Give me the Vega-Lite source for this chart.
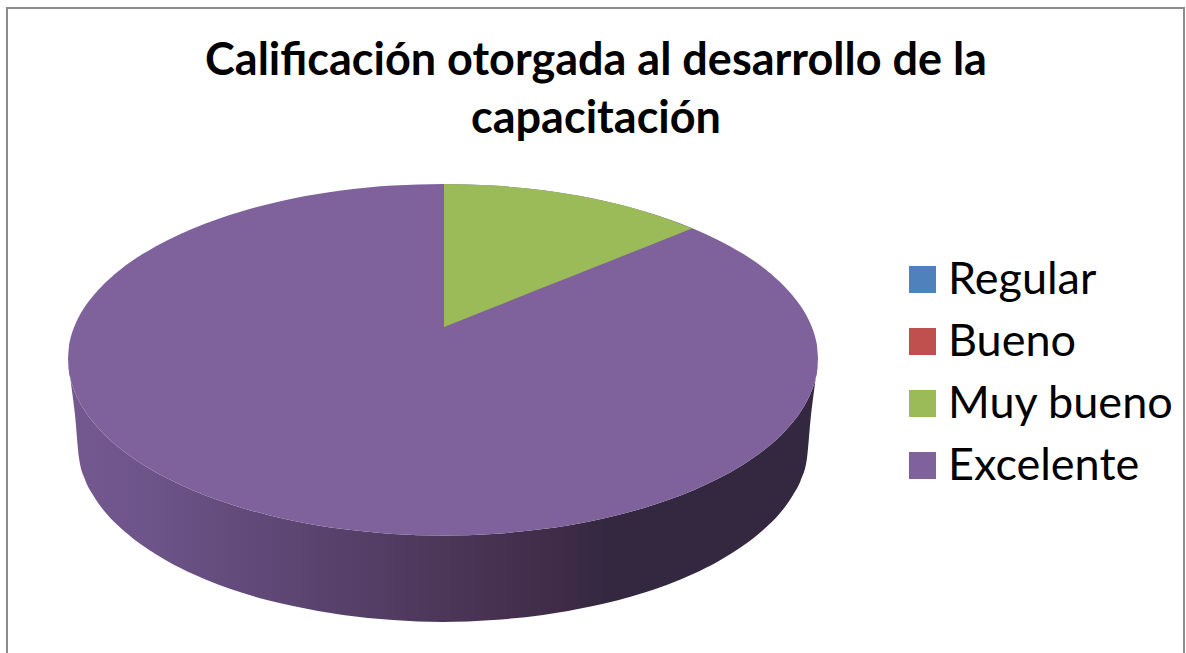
{
"$schema":"https://vega.github.io/schema/vega-lite/v6.json",
"width":1186,"height":653,"padding":0,"autosize":{"type":"none"},"background":"white",
"title":{"text":["Calificación otorgada al desarrollo de la","capacitación"],"font":"Lato","fontWeight":"bold","fontSize":45,"lineHeight":58,"color":"#000000","anchor":"middle","frame":"group","baseline":"top","offset":-142,"dx":3,"dy":0},
"config":{"view":{"stroke":null}},
"datasets":{
"borde":[{"x":7,"y":653,"i":0},{"x":7,"y":8,"i":1},{"x":1184,"y":8,"i":2},{"x":1184,"y":653,"i":3}],
"lateral":[{"x":68,"a":358.5,"b":360},{"x":69,"a":371.4,"b":368},{"x":70,"a":376.7,"b":376},{"x":72,"a":384.3,"b":391},{"x":75,"a":392.5,"b":415},{"x":79,"a":401,"b":458},{"x":85,"a":411.2,"b":479.5},{"x":93,"a":422,"b":495},{"x":103,"a":433.2,"b":509.4},{"x":118,"a":446.8,"b":525.6},{"x":133,"a":458.1,"b":538.4},{"x":143,"a":464.7,"b":545.8},{"x":168,"a":478.8,"b":561.4},{"x":193,"a":490.4,"b":574},{"x":218,"a":500.1,"b":584.4},{"x":243,"a":508.2,"b":593},{"x":268,"a":515,"b":600.3},{"x":293,"a":520.7,"b":606},{"x":343,"a":529.1,"b":615},{"x":393,"a":533.9,"b":620},{"x":443,"a":535.5,"b":622},{"x":493,"a":533.9,"b":620},{"x":543,"a":529.1,"b":615},{"x":593,"a":520.7,"b":606},{"x":618,"a":515,"b":600.3},{"x":643,"a":508.2,"b":593},{"x":668,"a":500.1,"b":584.4},{"x":693,"a":490.4,"b":574},{"x":718,"a":478.8,"b":561.4},{"x":743,"a":464.7,"b":545.8},{"x":753,"a":458.1,"b":538.4},{"x":768,"a":446.8,"b":525.6},{"x":783,"a":433.2,"b":509.4},{"x":793,"a":422,"b":495},{"x":801,"a":411.2,"b":479.5},{"x":807,"a":401,"b":458},{"x":811,"a":392.5,"b":415},{"x":814,"a":384.3,"b":391},{"x":816,"a":376.7,"b":376},{"x":817,"a":371.4,"b":368},{"x":818,"a":358.5,"b":360}],
"cara":[{"categoria":"Excelente","x":68,"a":358.5,"b":358.5},{"categoria":"Excelente","x":69,"a":345.8,"b":371.4},{"categoria":"Excelente","x":70,"a":340.5,"b":376.7},{"categoria":"Excelente","x":72,"a":333.1,"b":384.3},{"categoria":"Excelente","x":75,"a":325,"b":392.5},{"categoria":"Excelente","x":79,"a":316.5,"b":401},{"categoria":"Excelente","x":85,"a":306.5,"b":411.2},{"categoria":"Excelente","x":93,"a":295.9,"b":422},{"categoria":"Excelente","x":103,"a":284.9,"b":433.2},{"categoria":"Excelente","x":118,"a":271.4,"b":446.8},{"categoria":"Excelente","x":133,"a":260.3,"b":458.1},{"categoria":"Excelente","x":143,"a":253.8,"b":464.7},{"categoria":"Excelente","x":168,"a":239.9,"b":478.8},{"categoria":"Excelente","x":193,"a":228.5,"b":490.4},{"categoria":"Excelente","x":218,"a":218.9,"b":500.1},{"categoria":"Excelente","x":243,"a":210.9,"b":508.2},{"categoria":"Excelente","x":268,"a":204.2,"b":515},{"categoria":"Excelente","x":293,"a":198.6,"b":520.7},{"categoria":"Excelente","x":343,"a":190.3,"b":529.1},{"categoria":"Excelente","x":393,"a":185.6,"b":533.9},{"categoria":"Excelente","x":443,"a":184,"b":535.5},{"categoria":"Excelente","x":493,"a":185.6,"b":533.9},{"categoria":"Excelente","x":543,"a":190.3,"b":529.1},{"categoria":"Excelente","x":593,"a":198.6,"b":520.7},{"categoria":"Excelente","x":618,"a":204.2,"b":515},{"categoria":"Excelente","x":643,"a":210.9,"b":508.2},{"categoria":"Excelente","x":668,"a":218.9,"b":500.1},{"categoria":"Excelente","x":693,"a":228.5,"b":490.4},{"categoria":"Excelente","x":718,"a":239.9,"b":478.8},{"categoria":"Excelente","x":743,"a":253.8,"b":464.7},{"categoria":"Excelente","x":753,"a":260.3,"b":458.1},{"categoria":"Excelente","x":768,"a":271.4,"b":446.8},{"categoria":"Excelente","x":783,"a":284.9,"b":433.2},{"categoria":"Excelente","x":793,"a":295.9,"b":422},{"categoria":"Excelente","x":801,"a":306.5,"b":411.2},{"categoria":"Excelente","x":807,"a":316.5,"b":401},{"categoria":"Excelente","x":811,"a":325,"b":392.5},{"categoria":"Excelente","x":814,"a":333.1,"b":384.3},{"categoria":"Excelente","x":816,"a":340.5,"b":376.7},{"categoria":"Excelente","x":817,"a":345.8,"b":371.4},{"categoria":"Excelente","x":818,"a":358.5,"b":358.5}],
"sector":[{"categoria":"Muy bueno","x":444,"a":184,"b":327},{"categoria":"Muy bueno","x":493,"a":185.6,"b":307.5},{"categoria":"Muy bueno","x":543,"a":190.3,"b":287.6},{"categoria":"Muy bueno","x":593,"a":198.6,"b":267.8},{"categoria":"Muy bueno","x":643,"a":210.9,"b":247.9},{"categoria":"Muy bueno","x":693,"a":228.5,"b":228}],
"leyenda":[{"categoria":"Regular"},{"categoria":"Bueno"},{"categoria":"Muy bueno"},{"categoria":"Excelente"}]
},
"data":{"name":"lateral"},
"layer":[
{"data":{"name":"lateral"},
 "mark":{"type":"area","orient":"vertical","interpolate":"monotone","clip":false,"color":{"gradient":"linear","x1":0,"x2":1,"y1":0,"y2":0,"stops":[{"offset":0,"color":"#74598f"},{"offset":0.12,"color":"#6c5388"},{"offset":0.31,"color":"#5b4571"},{"offset":0.5,"color":"#4c3759"},{"offset":0.66,"color":"#3f2a47"},{"offset":0.72,"color":"#332840"},{"offset":1,"color":"#332840"}]}},
 "encoding":{"x":{"field":"x","type":"quantitative","scale":{"domain":[0,1186],"nice":false,"zero":false},"axis":null},
 "y":{"field":"a","type":"quantitative","scale":{"domain":[653,0],"nice":false,"zero":false},"axis":null},
 "y2":{"field":"b"}}},
{"data":{"name":"leyenda"},"mark":{"type":"square","size":0,"opacity":0},
 "encoding":{"color":{"field":"categoria","type":"nominal"}}},
{"data":{"name":"cara"},"mark":{"type":"area","orient":"vertical","interpolate":"monotone"},
 "encoding":{"x":{"field":"x","type":"quantitative"},"y":{"field":"a","type":"quantitative"},"y2":{"field":"b"},
 "color":{"field":"categoria","type":"nominal",
  "scale":{"domain":["Regular","Bueno","Muy bueno","Excelente"],"range":["#4f81bd","#c0504d","#9bbb59","#7f629c"]},
  "legend":{"title":null,"orient":"none","legendX":900,"legendY":257,"symbolType":"square","symbolSize":729,"symbolStrokeWidth":0,"symbolOpacity":1,"labelFont":"Lato","labelFontSize":45,"labelColor":"#000000","labelOffset":3,"rowPadding":16,"labelLimit":300}}}},
{"data":{"name":"sector"},"mark":{"type":"area","orient":"vertical","interpolate":"monotone"},
 "encoding":{"x":{"field":"x","type":"quantitative"},"y":{"field":"a","type":"quantitative"},"y2":{"field":"b"},
 "color":{"field":"categoria","type":"nominal"}}},
{"data":{"name":"borde"},"mark":{"type":"line","color":"#8c8c8c","strokeWidth":2},
 "encoding":{"x":{"field":"x","type":"quantitative"},"y":{"field":"y","type":"quantitative"},"order":{"field":"i","type":"ordinal"}}}
]
}
